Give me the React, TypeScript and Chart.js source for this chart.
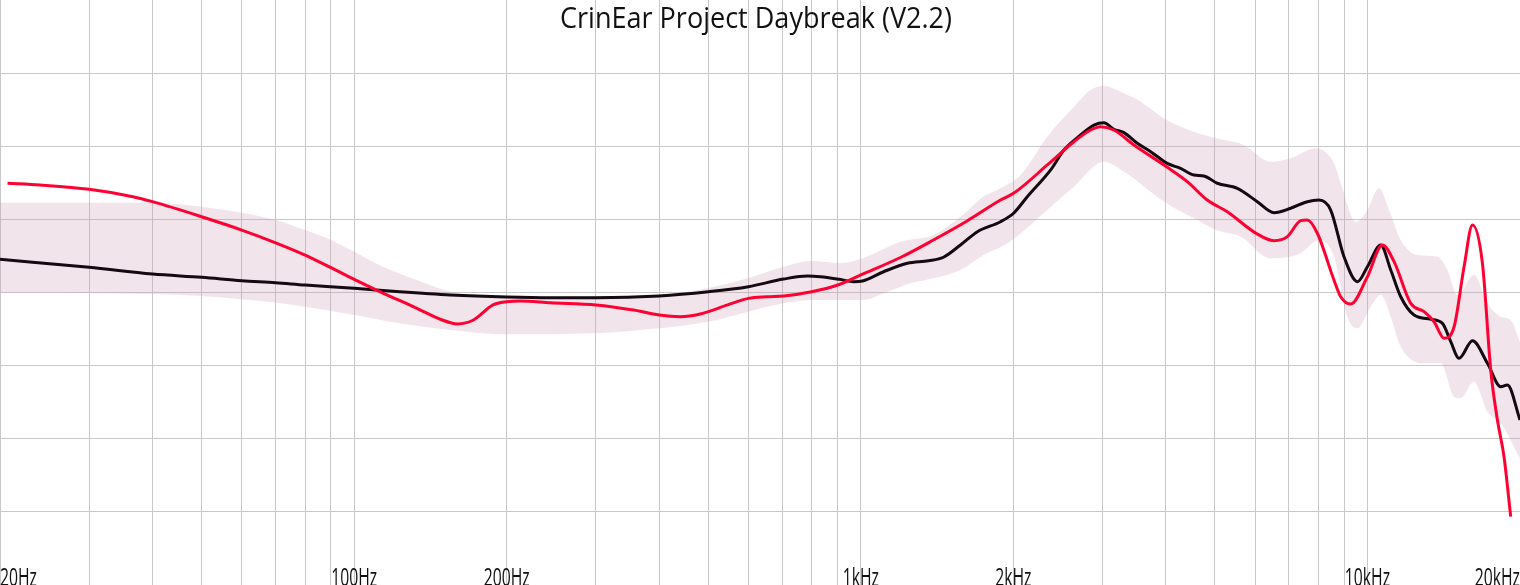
import React, { useEffect, useRef } from 'react';
import { Chart, registerables } from 'chart.js';

Chart.register(...registerables);

const TITLE = 'CrinEar Project Daybreak (V2.2)';

const labelFreqs = [20, 100, 200, 1000, 2000, 10000, 20000];
const labelTexts = ['20Hz', '100Hz', '200Hz', '1kHz', '2kHz', '10kHz', '20kHz'];

const gridFreqs = [
  20, 30, 40, 50, 60, 70, 80, 90, 100,
  200, 300, 400, 500, 600, 700, 800, 900, 1000,
  2000, 3000, 4000, 5000, 6000, 7000, 8000, 9000, 10000, 20000,
];
const gridDb = [45, 50, 55, 60, 65, 70, 75];

// IEM measurement (red)
const redFreq = [
  20.7, 24, 30, 36.6, 40, 50, 60, 70, 80, 90, 100, 112.6, 133, 148, 160, 172, 188, 200, 213, 244,
  300, 356, 400, 440, 482, 546, 600, 654, 704, 800, 900, 1000, 1200, 1391, 1624, 1887, 2002, 2334,
  2634, 2841, 2974, 3159, 3460, 4012, 4409, 4829, 5289, 6025, 6538, 6948, 7380, 7609, 7963, 8588,
  8854, 9267, 9996, 10702, 11284, 12174, 12932, 13533, 14161, 14823, 15511, 16114, 16861, 17509,
  18049, 18599, 19173,
];
const redDb = [
  67.47, 67.35, 67.06, 66.55, 66.21, 65.18, 64.27, 63.4, 62.56, 61.7, 60.9, 60.05, 58.92, 58.17,
  57.85, 58.12, 59.15, 59.37, 59.42, 59.3, 59.15, 58.8, 58.46, 58.35, 58.53, 59.15, 59.6, 59.71,
  59.76, 60.05, 60.51, 61.2, 62.41, 63.59, 64.91, 66.32, 66.78, 68.72, 70.31, 71.11, 71.34, 71.11,
  70.09, 68.6, 67.58, 66.32, 65.52, 64.05, 63.54, 63.82, 64.91, 64.96, 64.05, 60.85, 59.71, 59.21,
  61.08, 63.25, 62.11, 59.26, 58.69, 58.0, 56.87, 57.66, 61.76, 64.62, 62.0, 54.7, 51.28, 48.77,
  44.67,
];

// Average / reference (black)
const blackFreq = [
  20, 30, 40, 50, 60, 70, 80, 100, 123, 155, 200, 244, 300, 400, 500, 600, 704, 785, 832, 908, 968,
  1008, 1109, 1236, 1360, 1456, 1573, 1699, 1887, 2002, 2131, 2370, 2517, 2715, 2885, 3019, 3159,
  3306, 3514, 3734, 4025, 4277, 4544, 4755, 5053, 5534, 6062, 6538, 7053, 7609, 8022, 8460, 8988,
  9553, 9996, 10620, 11116, 11632, 12358, 13332, 14060, 14600, 15163, 16114, 17249, 18322, 18887,
  20000,
];
const blackDb = [
  62.27, 61.72, 61.26, 61.04, 60.81, 60.67, 60.51, 60.29, 60.05, 59.83, 59.69, 59.64, 59.64, 59.76,
  60.05, 60.4, 60.92, 61.13, 61.08, 60.9, 60.74, 60.79, 61.42, 62.0, 62.17, 62.41, 63.25, 64.16,
  64.84, 65.42, 66.55, 68.38, 69.74, 70.77, 71.45, 71.61, 71.16, 70.93, 70.2, 69.63, 68.83, 68.49,
  68.03, 67.97, 67.47, 67.12, 66.21, 65.46, 65.76, 66.21, 66.32, 65.64, 62.45, 60.74, 61.76, 63.25,
  61.54, 59.71, 58.46, 58.17, 57.89, 56.64, 55.5, 56.7, 55.16, 53.56, 53.68, 51.28,
];

// Shaded range, upper edge
const upperFreq = [
  20, 40, 50, 60, 70, 80, 90, 100, 114, 133, 155, 200, 300, 400, 500, 600, 704, 803, 908, 1008,
  1198, 1391, 1573, 1746, 1887, 2067, 2334, 2634, 2841, 3019, 3256, 3567, 4012, 4544, 5030, 5696,
  6441, 7053, 7900, 8588, 8854, 9479, 9996, 10538, 11030, 11632, 12549, 13743, 14382, 15054, 16231,
  17249, 18322, 19173, 20000,
];
const upperDb = [
  66.14, 66.14, 65.87, 65.46, 64.96, 64.27, 63.59, 62.79, 61.76, 60.85, 60.05, 59.71, 59.76, 59.83,
  60.31, 60.99, 61.76, 62.17, 62.0, 62.34, 63.47, 63.93, 65.18, 66.55, 67.12, 68.03, 70.65, 72.7,
  73.85, 74.12, 73.73, 73.05, 71.79, 70.99, 70.54, 70.09, 68.94, 69.18, 69.86, 68.83, 67.47, 64.84,
  65.64, 67.12, 65.64, 63.59, 62.56, 62.45, 61.54, 59.83, 61.2, 59.26, 58.35, 58.12, 56.6,
];

// Shaded range, lower edge
const lowerFreq = [
  20, 40, 50, 60, 70, 80, 100, 123, 155, 200, 300, 400, 500, 600, 704, 803, 1008, 1109, 1253, 1391,
  1573, 1746, 1948, 2334, 2634, 3019, 3306, 4012, 4544, 5030, 5619, 6441, 7053, 7380, 8022, 8588,
  9127, 9553, 10147, 10620, 11116, 11632, 12932, 13951, 14823, 15280, 16231, 17249, 18322, 20000,
];
const lowerDb = [
  59.99, 59.9, 59.76, 59.53, 59.3, 59.03, 58.46, 57.89, 57.44, 57.14, 57.21, 57.55, 58.0, 58.69,
  59.26, 59.49, 59.49, 59.94, 60.63, 60.97, 61.54, 62.56, 63.36, 65.64, 67.23, 68.94, 68.26, 66.1,
  65.07, 64.27, 63.82, 62.34, 62.45, 62.68, 63.59, 62.45, 58.35, 57.55, 59.03, 59.83, 58.35, 56.29,
  55.16, 55.16, 52.88, 52.77, 53.9, 51.85, 51.06, 48.66,
];

const toPoints = (xs: number[], ys: number[]) => xs.map((x, i) => ({ x, y: ys[i] }));

const inlineText = {
  id: 'inlineText',
  afterDatasetsDraw(chart: any) {
    const { ctx, scales, width } = chart;
    const xs = scales.x;
    ctx.save();
    ctx.fillStyle = '#111';
    ctx.textBaseline = 'alphabetic';
    ctx.textAlign = 'left';
    ctx.font = '25px "Open Sans"';
    const sx = 46 / ctx.measureText('100Hz').width;
    labelFreqs.forEach((f, i) => {
      const text = labelTexts[i];
      const w = ctx.measureText(text).width * sx;
      const px = xs.getPixelForValue(f);
      let left = px - w / 2;
      if (i === 0) left = Math.max(0, px);
      if (i === labelFreqs.length - 1) left = Math.min(width, px) - w;
      ctx.save();
      ctx.translate(left, 586);
      ctx.scale(sx, 1);
      ctx.fillText(text, 0, 0);
      ctx.restore();
    });
    ctx.font = '30px "Open Sans"';
    const ts = 392 / ctx.measureText(TITLE).width;
    ctx.translate(756, 28);
    ctx.scale(ts, 1);
    ctx.textAlign = 'center';
    ctx.fillText(TITLE, 0, 0);
    ctx.restore();
  },
};

export default function App() {
  const ref = useRef<HTMLCanvasElement>(null);

  useEffect(() => {
    if (!ref.current) return;
    const chart = new Chart(ref.current, {
      type: 'line',
      data: {
        datasets: [
          {
            label: 'CrinEar Project Daybreak',
            data: toPoints(redFreq, redDb),
            borderColor: '#ff0033',
            borderWidth: 3,
            pointRadius: 0,
            fill: false,
            cubicInterpolationMode: 'monotone',
            order: 0,
          },
          {
            label: 'Average',
            data: toPoints(blackFreq, blackDb),
            borderColor: '#150a12',
            borderWidth: 3,
            pointRadius: 0,
            fill: false,
            cubicInterpolationMode: 'monotone',
            order: 1,
          },
          {
            label: 'Range upper',
            data: toPoints(upperFreq, upperDb),
            borderColor: 'rgba(0,0,0,0)',
            borderWidth: 0,
            pointRadius: 0,
            fill: false,
            cubicInterpolationMode: 'monotone',
            order: 2,
          },
          {
            label: 'Range lower',
            data: toPoints(lowerFreq, lowerDb),
            borderColor: 'rgba(0,0,0,0)',
            borderWidth: 0,
            pointRadius: 0,
            fill: '-1',
            backgroundColor: 'rgba(200,150,175,0.25)',
            cubicInterpolationMode: 'monotone',
            order: 3,
          },
        ],
      },
      options: {
        animation: false,
        responsive: false,
        layout: { padding: 0, autoPadding: false },
        events: [],
        plugins: {
          legend: { display: false },
          tooltip: { enabled: false },
          title: { display: false },
        },
        scales: {
          x: {
            type: 'logarithmic',
            min: 20,
            max: 20000,
            afterBuildTicks: (s: any) => {
              s.ticks = gridFreqs.map((v) => ({ value: v }));
            },
            ticks: { display: false },
            grid: { color: '#c8c8c8', lineWidth: 1, drawTicks: false },
            border: { display: false },
          },
          y: {
            type: 'linear',
            min: 40,
            max: 80,
            afterBuildTicks: (s: any) => {
              s.ticks = gridDb.map((v) => ({ value: v }));
            },
            ticks: { display: false },
            grid: { color: '#c8c8c8', lineWidth: 1, drawTicks: false },
            border: { display: false },
          },
        },
      },
      plugins: [inlineText],
    } as any);
    return () => chart.destroy();
  }, []);

  return (
    <div style={{ position: 'fixed', left: 0, top: 0, width: 1520, height: 585, background: '#fff' }}>
      <canvas ref={ref} width={1520} height={585} style={{ display: 'block', width: 1520, height: 585 }} />
    </div>
  );
}
